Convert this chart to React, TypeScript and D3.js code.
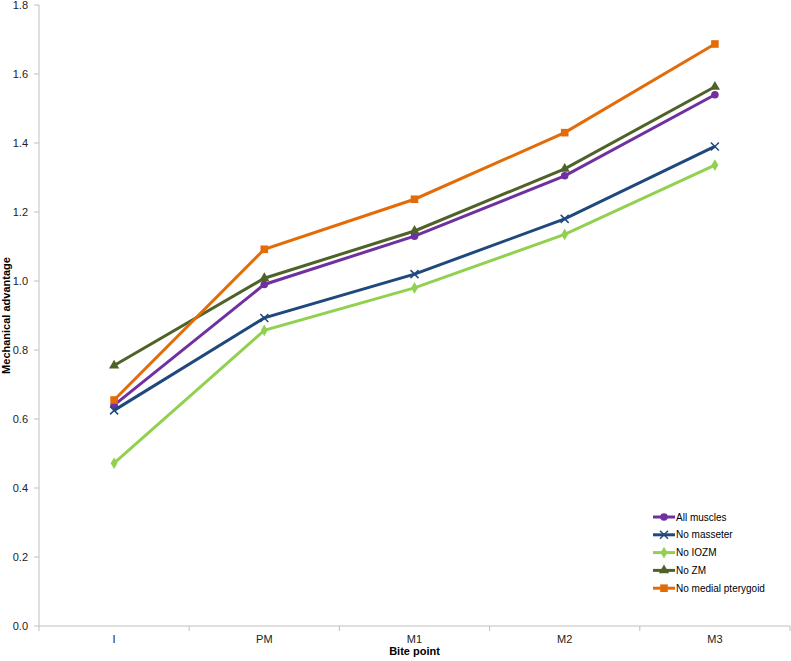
import React, { useEffect, useRef } from "react";
import * as d3 from "d3";

const categories = ["I", "PM", "M1", "M2", "M3"];
const seriesNames = ["All muscles", "No masseter", "No IOZM", "No ZM", "No medial pterygoid"];
const allMuscles = [0.64, 0.99, 1.13, 1.305, 1.54];
const noMasseter = [0.625, 0.893, 1.02, 1.18, 1.39];
const noIOZM = [0.472, 0.857, 0.98, 1.135, 1.336];
const noZM = [0.755, 1.008, 1.145, 1.325, 1.563];
const noMedialPterygoid = [0.655, 1.092, 1.237, 1.43, 1.687];
const colors = ["#7030A0", "#1F497D", "#92D050", "#4F6228", "#E36C09"];
const markers = ["circle", "x", "diamond", "triangle", "square"];
const yTicks = [0, 0.2, 0.4, 0.6, 0.8, 1.0, 1.2, 1.4, 1.6, 1.8];

const W = 791, H = 661;
const left = 39, right = 790, top = 5, bottom = 626;

export default function App() {
  const ref = useRef<SVGSVGElement>(null);
  useEffect(() => {
    const svg = d3.select(ref.current);
    svg.selectAll("*").remove();
    const values = [allMuscles, noMasseter, noIOZM, noZM, noMedialPterygoid];
    const x = d3.scaleBand().domain(categories).range([left, right]);
    const y = d3.scaleLinear().domain([0, 1.8]).range([bottom, top]);
    const font = "Arial, 'Liberation Sans', sans-serif";

    // y axis
    const gy = svg.append("g");
    gy.append("line").attr("x1", left).attr("x2", left).attr("y1", top).attr("y2", bottom).attr("stroke", "#BFBFBF");
    yTicks.forEach((t) => {
      gy.append("line").attr("x1", left - 5).attr("x2", left).attr("y1", y(t)).attr("y2", y(t)).attr("stroke", "#BFBFBF");
      gy.append("text").attr("x", left - 11).attr("y", y(t)).attr("dy", "0.35em").attr("text-anchor", "end")
        .attr("font-family", font).attr("font-size", 11).attr("fill", "#222").text(t.toFixed(1));
    });
    // x axis
    const gx = svg.append("g");
    gx.append("line").attr("x1", left).attr("x2", right).attr("y1", bottom).attr("y2", bottom).attr("stroke", "#BFBFBF");
    categories.forEach((c, i) => {
      const bx = x(c)! + x.bandwidth();
      gx.append("line").attr("x1", bx).attr("x2", bx).attr("y1", bottom).attr("y2", bottom + 5).attr("stroke", "#BFBFBF");
      gx.append("text").attr("x", x(c)! + x.bandwidth() / 2).attr("y", bottom + 17).attr("text-anchor", "middle")
        .attr("font-family", font).attr("font-size", 11).attr("fill", "#222").text(c);
    });
    gx.append("line").attr("x1", left).attr("x2", left).attr("y1", bottom).attr("y2", bottom + 5).attr("stroke", "#BFBFBF");

    svg.append("text").attr("x", (left + right) / 2).attr("y", 655).attr("text-anchor", "middle")
      .attr("font-family", font).attr("font-size", 11).attr("font-weight", "bold").attr("fill", "#000").text("Bite point");
    svg.append("text").attr("transform", `translate(10,${(top + bottom) / 2}) rotate(-90)`).attr("text-anchor", "middle")
      .attr("font-family", font).attr("font-size", 11).attr("font-weight", "bold").attr("fill", "#000").text("Mechanical advantage");

    const cx = (i: number) => x(categories[i])! + x.bandwidth() / 2;
    const drawMarker = (g: any, m: string, px: number, py: number, col: string) => {
      if (m === "circle") g.append("circle").attr("cx", px).attr("cy", py).attr("r", 3.8).attr("fill", col);
      else if (m === "square") g.append("rect").attr("x", px - 3.8).attr("y", py - 3.8).attr("width", 7.6).attr("height", 7.6).attr("fill", col);
      else if (m === "diamond") g.append("path").attr("d", d3.symbol(d3.symbolDiamond, 40)()).attr("transform", `translate(${px},${py})`).attr("fill", col);
      else if (m === "triangle") g.append("path").attr("d", d3.symbol(d3.symbolTriangle, 45)()).attr("transform", `translate(${px},${py})`).attr("fill", col);
      else if (m === "x") g.append("path").attr("d", `M${px - 4},${py - 4}L${px + 4},${py + 4}M${px - 4},${py + 4}L${px + 4},${py - 4}`).attr("stroke", col).attr("stroke-width", 1.5).attr("fill", "none");
    };

    const line = d3.line<number>().x((_, i) => cx(i)).y((d) => y(d));
    values.forEach((vals, s) => {
      const g = svg.append("g");
      g.append("path").attr("d", line(vals)).attr("fill", "none").attr("stroke", colors[s]).attr("stroke-width", 3);
      vals.forEach((v, i) => drawMarker(g, markers[s], cx(i), y(v), colors[s]));
    });

    // legend
    const lg = svg.append("g");
    seriesNames.forEach((n, s) => {
      const ly = 517 + s * 17.8;
      lg.append("line").attr("x1", 653).attr("x2", 675).attr("y1", ly).attr("y2", ly).attr("stroke", colors[s]).attr("stroke-width", 3);
      drawMarker(lg, markers[s], 664, ly, colors[s]);
      lg.append("text").attr("x", 676).attr("y", ly).attr("dy", "0.35em").attr("font-family", font).attr("font-size", 10).attr("fill", "#000").text(n);
    });
  }, []);
  return (
    <svg ref={ref} width={W} height={H} style={{ position: "absolute", left: 0, top: 0, background: "#fff" }} />
  );
}
